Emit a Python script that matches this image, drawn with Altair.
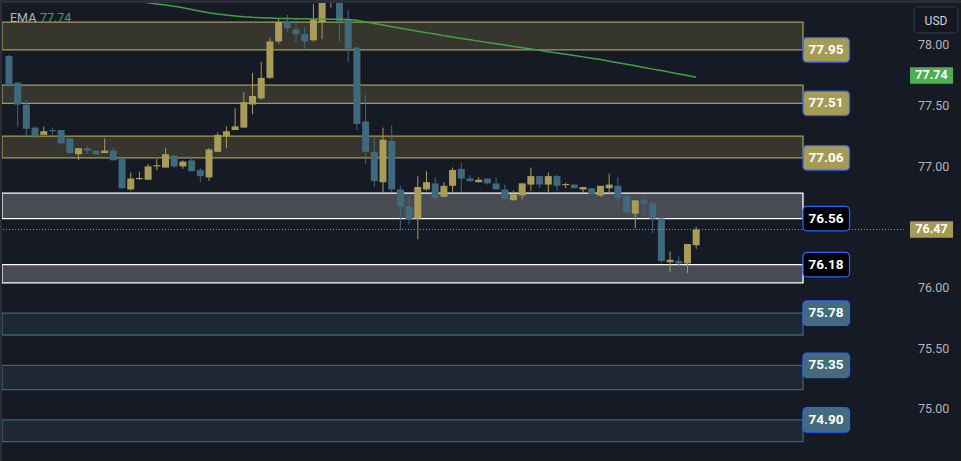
import altair as alt
import pandas as pd

# ---------------- data ----------------
opens = [77.90, 77.68, 77.50, 77.31, 77.25, 77.29, 77.29, 77.22, 77.09, 77.14,
         77.12, 77.10, 77.12, 77.05, 76.80, 76.885, 76.88, 76.99, 76.98, 77.08,
         76.99, 77.04, 76.96, 76.90, 77.11, 77.24, 77.29, 77.31, 77.50, 77.55,
         77.72, 78.02, 78.19, 78.12, 78.08, 78.03, 78.18, 78.38, 78.40, 78.20,
         77.97, 77.36, 77.11, 76.86, 77.20, 76.80, 76.66, 76.56, 76.80, 76.85,
         76.74, 76.83, 76.97, 76.89, 76.86, 76.89, 76.85, 76.80, 76.71, 76.75,
         76.84, 76.91, 76.84, 76.91, 76.835, 76.84, 76.80, 76.81, 76.75, 76.81,
         76.83, 76.75, 76.60, 76.71, 76.69, 76.56, 76.20, 76.21, 76.19, 76.34]
highs = [77.91, 77.69, 77.54, 77.32, 77.32, 77.31, 77.29, 77.22, 77.14, 77.16,
         77.12, 77.22, 77.15, 77.06, 76.94, 76.945, 77.01, 77.05, 77.14, 77.08,
         77.04, 77.07, 76.98, 77.14, 77.27, 77.32, 77.47, 77.60, 77.76, 77.85,
         78.05, 78.21, 78.24, 78.20, 78.14, 78.33, 78.42, 78.44, 78.42, 78.28,
         77.98, 77.58, 77.24, 77.31, 77.33, 76.83, 76.75, 76.91, 76.95, 76.90,
         76.86, 76.98, 77.02, 76.92, 76.90, 76.89, 76.90, 76.84, 76.79, 76.85,
         76.98, 76.91, 76.94, 76.92, 76.855, 76.84, 76.82, 76.81, 76.83, 76.93,
         76.90, 76.76, 76.71, 76.76, 76.70, 76.60, 76.29, 76.25, 76.35, 76.49]
lows = [77.65, 77.32, 77.24, 77.22, 77.25, 77.25, 77.17, 77.09, 77.04, 77.09,
        77.09, 77.10, 77.04, 76.81, 76.79, 76.878, 76.88, 76.96, 76.98, 76.98,
        76.97, 76.95, 76.86, 76.87, 77.11, 77.14, 77.29, 77.31, 77.42, 77.54,
        77.71, 78.00, 78.10, 78.01, 77.96, 78.02, 78.04, 78.30, 78.02, 77.85,
        77.29, 77.01, 76.82, 76.77, 76.78, 76.46, 76.51, 76.39, 76.79, 76.71,
        76.74, 76.78, 76.78, 76.86, 76.86, 76.84, 76.80, 76.72, 76.71, 76.72,
        76.79, 76.81, 76.76, 76.79, 76.81, 76.81, 76.77, 76.76, 76.74, 76.76,
        76.66, 76.61, 76.48, 76.59, 76.44, 76.19, 76.12, 76.15, 76.11, 76.31]
closes = [77.66, 77.50, 77.30, 77.24, 77.28, 77.28, 77.18, 77.10, 77.14, 77.12,
          77.09, 77.12, 77.04, 76.81, 76.89, 76.895, 76.99, 77.00, 77.09, 76.99,
          77.03, 76.95, 76.91, 77.13, 77.25, 77.28, 77.32, 77.52, 77.57, 77.72,
          78.02, 78.18, 78.13, 78.08, 78.02, 78.20, 78.38, 78.40, 78.18, 77.96,
          77.34, 77.11, 76.87, 77.21, 76.80, 76.66, 76.55, 76.82, 76.86, 76.73,
          76.83, 76.96, 76.89, 76.87, 76.88, 76.85, 76.80, 76.72, 76.76, 76.85,
          76.91, 76.84, 76.91, 76.83, 76.845, 76.81, 76.82, 76.76, 76.83, 76.84,
          76.73, 76.61, 76.71, 76.68, 76.56, 76.21, 76.22, 76.19, 76.35, 76.47]

ema_start = 13
ema_vals = [78.372, 78.360, 78.349, 78.339, 78.329, 78.320, 78.311, 78.299, 78.284, 78.270,
            78.256, 78.246, 78.238, 78.231, 78.224, 78.219, 78.216, 78.213, 78.209, 78.209,
            78.208, 78.207, 78.206, 78.205, 78.204, 78.203, 78.202, 78.195, 78.181, 78.168,
            78.155, 78.142, 78.129, 78.117, 78.105, 78.092, 78.081, 78.068, 78.057, 78.045,
            78.035, 78.023, 78.012, 78.002, 77.991, 77.979, 77.969, 77.958, 77.947, 77.936,
            77.925, 77.914, 77.904, 77.893, 77.882, 77.871, 77.857, 77.844, 77.832, 77.819,
            77.805, 77.792, 77.780, 77.766, 77.752, 77.739, 77.725]

zone_top = [78.18, 77.66, 77.24, 76.77, 76.18, 75.78, 75.35, 74.90]
zone_bot = [77.95, 77.51, 77.06, 76.56, 76.03, 75.60, 75.15, 74.72]
zone_kind = ["res", "res", "res", "mid", "mid", "sup", "sup", "sup"]
zone_label = [77.95, 77.51, 77.06, 76.56, 76.18, 75.78, 75.35, 74.90]

axis_ticks = [75.0, 75.5, 76.0, 76.5, 77.0, 77.5, 78.0]
tag_values = [77.74, 76.47]
tag_kind = ["ema", "last"]
last_price = [76.47]
ema_legend = ["EMA", "77.74"]
currency = ["USD"]

# ---------------- styling ----------------
BG = "#161a25"
UP = "#a89c58"
DOWN = "#3f697d"
zone_fill = {"res": "#36362e", "mid": "#484a54", "sup": "#1e2834"}
zone_stroke = {"res": "#a69c55", "mid": "#ffffff", "sup": "#3d6473"}
label_fill = {"res": "#a59b55", "mid": "#000000", "sup": "#436b7d"}
tag_fill = {"ema": "#4caf50", "last": "#a59b55"}

XS = alt.Scale(domain=[-0.455, 108.87], nice=False, zero=False)
YS = alt.Scale(domain=[74.561, 78.362], nice=False, zero=False)

n = len(opens)
cdf = pd.DataFrame({"i": list(range(n)), "open": opens, "high": highs,
                    "low": lows, "close": closes})
cdf["col"] = [UP if c >= o else DOWN for o, c in zip(opens, closes)]
cdf["bot"] = cdf[["open", "close"]].min(axis=1)
cdf["top"] = cdf[["open", "close"]].max(axis=1)

edf = pd.DataFrame({"i": list(range(ema_start, ema_start + len(ema_vals))), "ema": ema_vals})

zdf = pd.DataFrame({"top": zone_top, "bot": zone_bot, "kind": zone_kind, "label": zone_label})
zdf["fill"] = zdf["kind"].map(zone_fill)
zdf["stroke"] = zdf["kind"].map(zone_stroke)
zdf["lfill"] = zdf["kind"].map(label_fill)

tdf = pd.DataFrame({"v": tag_values, "kind": tag_kind})
tdf["fill"] = tdf["kind"].map(tag_fill)

adf = pd.DataFrame({"v": axis_ticks})

one = pd.DataFrame({"a": [0]})

zones = alt.Chart(zdf).mark_rect(strokeWidth=1.3).encode(
    x=alt.value(2), x2=alt.value(803),
    y=alt.Y("top:Q", scale=YS, axis=None), y2="bot:Q",
    fill=alt.Fill("fill:N", scale=None), stroke=alt.Stroke("stroke:N", scale=None))

axis_labels = alt.Chart(adf).mark_text(font="Roboto", fontSize=12.5, color="#b2b5be",
                                       align="left", baseline="middle", dy=1.5).encode(
    x=alt.value(918), y=alt.Y("v:Q", scale=YS, axis=None),
    text=alt.Text("v:Q", format=".2f"))

label_boxes = alt.Chart(zdf).transform_calculate(
    lo="datum.label - 0.101", hi="datum.label + 0.101"
).mark_rect(cornerRadius=4, stroke="#2962ff", strokeWidth=1.3).encode(
    x=alt.value(803), x2=alt.value(849.5),
    y=alt.Y("lo:Q", scale=YS, axis=None), y2="hi:Q",
    fill=alt.Fill("lfill:N", scale=None))

label_text = alt.Chart(zdf).mark_text(font="Roboto", fontSize=13.5, fontWeight="bold",
                                      color="#ffffff", align="center", baseline="middle").encode(
    x=alt.value(826), y=alt.Y("label:Q", scale=YS, axis=None),
    text=alt.Text("label:Q", format=".2f"))

wicks = alt.Chart(cdf).mark_rule(strokeWidth=1, clip=True).encode(
    x=alt.X("i:Q", scale=XS, axis=None),
    y=alt.Y("low:Q", scale=YS, axis=None), y2="high:Q",
    color=alt.Color("col:N", scale=None))

bodies = alt.Chart(cdf).mark_bar(size=7, clip=True).encode(
    x=alt.X("i:Q", scale=XS, axis=None),
    y=alt.Y("bot:Q", scale=YS, axis=None), y2="top:Q",
    color=alt.Color("col:N", scale=None))

ema = alt.Chart(edf).mark_line(color="#43a047", strokeWidth=1.5, clip=True).encode(
    x=alt.X("i:Q", scale=XS, axis=None),
    y=alt.Y("ema:Q", scale=YS, axis=None))

price_line = alt.Chart(pd.DataFrame({"p": last_price})).mark_rule(
    color="#a59b55", strokeDash=[1, 2], strokeWidth=1).encode(
    x=alt.value(0), x2=alt.value(905), y=alt.Y("p:Q", scale=YS, axis=None))

tag_boxes = alt.Chart(tdf).transform_calculate(
    lo="datum.v - 0.068", hi="datum.v + 0.068"
).mark_rect().encode(
    x=alt.value(910), x2=alt.value(953),
    y=alt.Y("lo:Q", scale=YS, axis=None), y2="hi:Q",
    fill=alt.Fill("fill:N", scale=None))

tag_text = alt.Chart(tdf).mark_text(font="Roboto", fontSize=12.5, fontWeight="bold",
                                    color="#ffffff", align="center", baseline="middle").encode(
    x=alt.value(931.5), y=alt.Y("v:Q", scale=YS, axis=None),
    text=alt.Text("v:Q", format=".2f"))

top_strip = alt.Chart(one).mark_rect(color="#2a2e39").encode(
    x=alt.value(0), x2=alt.value(961), y=alt.value(0), y2=alt.value(3))
left_strip = alt.Chart(one).mark_rect(color="#2a2e39").encode(
    x=alt.value(0), x2=alt.value(2), y=alt.value(0), y2=alt.value(461))

usd_box = alt.Chart(one).mark_rect(cornerRadius=4, fill="#131722", stroke="#363a45",
                                   strokeWidth=1).encode(
    x=alt.value(914), x2=alt.value(958), y=alt.value(7), y2=alt.value(33))
usd_text = alt.Chart(pd.DataFrame({"t": currency})).mark_text(
    font="Roboto", fontSize=12, color="#d1d4dc", align="center", baseline="middle").encode(
    x=alt.value(936), y=alt.value(20.5), text="t:N")

ema_lbl = alt.Chart(pd.DataFrame({"t": [ema_legend[0]]})).mark_text(
    font="Roboto", fontSize=12.5, color="#b2b5be", align="left", baseline="middle").encode(
    x=alt.value(10), y=alt.value(17.5), text="t:N")
ema_val = alt.Chart(pd.DataFrame({"t": [ema_legend[1]]})).mark_text(
    font="Roboto", fontSize=12.5, color="#43a047", align="left", baseline="middle").encode(
    x=alt.value(40), y=alt.value(17.5), text="t:N")

chart = alt.layer(
    zones, axis_labels, wicks, bodies, ema, price_line, label_boxes, label_text,
    tag_boxes, tag_text, top_strip, left_strip, usd_box, usd_text, ema_lbl, ema_val
).properties(
    width=961, height=461,
    autosize=alt.AutoSizeParams(type="none"),
    padding=0, background=BG
).configure_view(stroke=None)

chart.save("out.html", embed_options={"renderer": "svg", "actions": False})
